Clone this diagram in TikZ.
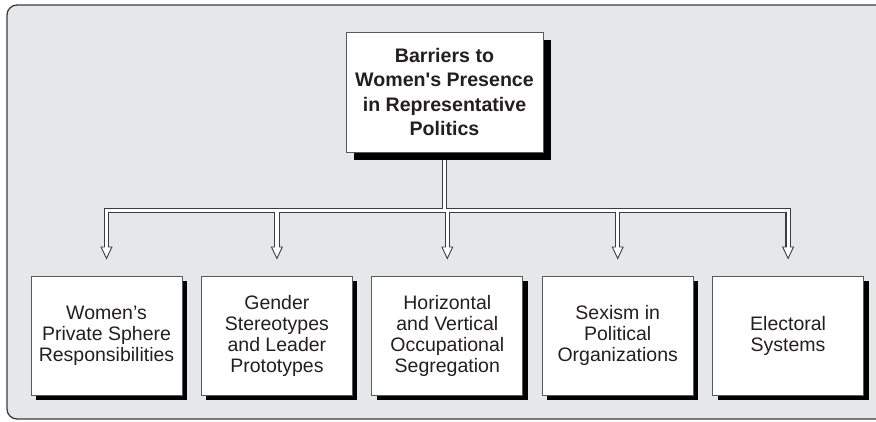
\documentclass[tikz,border=0pt]{standalone}
\usepackage{fontspec}
\setmainfont{Liberation Sans}
\usetikzlibrary{arrows.meta,positioning,shadows,backgrounds}
\definecolor{panel}{HTML}{E6E7E8}
\definecolor{ink}{HTML}{231F20}
\definecolor{rim}{HTML}{3C3C3E}
\definecolor{edge}{HTML}{58595B}

\begin{document}
\begin{tikzpicture}[x=1pt,y=-1pt,node distance=18.5pt,
barrier/.style={draw=edge,line width=0.9pt,fill=white,align=center,text=ink,inner sep=0pt,
  font=\fontsize{19.5}{21}\selectfont,minimum width=151pt,minimum height=119pt,
  general shadow={fill=black,shadow xshift=5pt,shadow yshift=-5pt}},
root/.style={draw=edge,line width=0.9pt,fill=white,align=center,text=ink,inner sep=0pt,
  font=\fontsize{19.6}{24.2}\selectfont\bfseries,minimum width=197pt,minimum height=120pt,
  general shadow={fill=black,shadow xshift=8pt,shadow yshift=-8pt}},
wire/.style={rim,line width=5.5pt,line cap=rect},
core/.style={white,line width=3.2pt,line cap=rect}]
\useasboundingbox (0,0) rectangle (876,421);
\node[root] (top) at (444.5,92) {Barriers to\\Women\textquotesingle s Presence\\in Representative\\Politics};
\node[barrier] (b1) at (106.5,335.5) {Women's\\Private Sphere\\Responsibilities};
\node[barrier,right=of b1] (b2) {Gender\\Stereotypes\\and Leader\\Prototypes};
\node[barrier,right=of b2] (b3) {Horizontal\\and Vertical\\Occupational\\Segregation};
\node[barrier,right=of b3] (b4) {Sexism in\\Political\\Organizations};
\node[barrier,right=of b4] (b5) {Electoral\\Systems};
\coordinate (bar) at (444.5,210.5);
\begin{scope}[on background layer]
\draw[rim,line width=1.3pt,fill=panel,rounded corners=10pt] (7,5) rectangle (900,419);
% outer lines first, then the white core over all of them
\draw[wire] (top.south)--(bar) (b1.north|-bar)--(b5.north|-bar);
\foreach \i in {1,...,5}
  \draw[wire,shorten >=16pt,-{Triangle[fill=white,length=13pt,width=12pt,line width=0.9pt]}] (b\i.north|-bar)--(b\i.north);
\draw[core] (top.south)--(bar) (b1.north|-bar)--(b5.north|-bar);
\foreach \i in {1,...,5}
  \draw[core,shorten >=26pt] (b\i.north|-bar)--(b\i.north);
\end{scope}
\end{tikzpicture}
\end{document}
